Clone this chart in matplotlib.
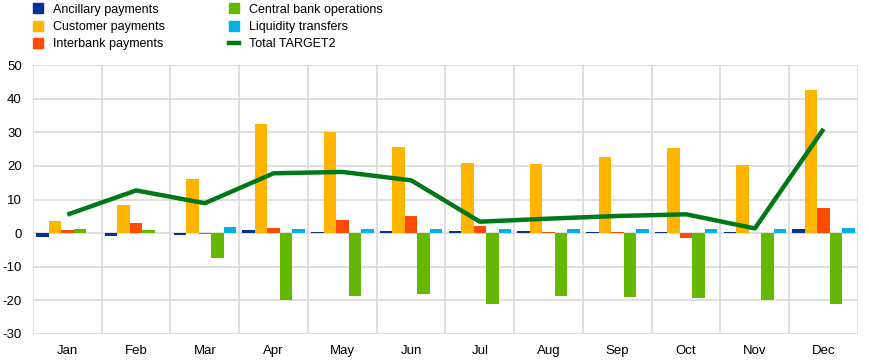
import matplotlib
matplotlib.use("Agg")
import matplotlib.pyplot as plt
import numpy as np
from matplotlib.lines import Line2D

plt.rcParams['font.family'] = ['Liberation Sans', 'DejaVu Sans']
plt.rcParams['axes.unicode_minus'] = False

months = ["Jan", "Feb", "Mar", "Apr", "May", "Jun", "Jul", "Aug", "Sep", "Oct", "Nov", "Dec"]
ancillary = [-1.2, -0.8, -0.5, 0.8, 0.3, 0.7, 0.5, 0.7, 0.2, 0.2, 0.2, 1.3]
customer = [3.5, 8.4, 16.1, 32.5, 30.1, 25.6, 20.8, 20.6, 22.7, 25.4, 20.3, 42.6]
interbank = [0.8, 3.1, -0.4, 1.6, 4.0, 5.2, 2.2, 0.4, 0.2, -1.5, 0.0, 7.5]
central = [1.3, 1.0, -7.3, -19.8, -18.6, -18.0, -21.2, -18.6, -18.9, -19.2, -19.8, -21.2]
liquidity = [0.0, 0.0, 1.9, 1.3, 1.3, 1.3, 1.3, 1.3, 1.3, 1.3, 1.3, 1.6]
total = [5.5, 12.7, 8.9, 17.8, 18.2, 15.7, 3.4, 4.3, 5.1, 5.6, 1.4, 31.0]

series = [
    ("Ancillary payments", ancillary, "#003299"),
    ("Customer payments", customer, "#FFB400"),
    ("Interbank payments", interbank, "#FF4B00"),
    ("Central bank operations", central, "#65B800"),
    ("Liquidity transfers", liquidity, "#00B1EA"),
]
total_color = "#007816"

W, H = 869, 362
fig = plt.figure(figsize=(W / 100, H / 100), dpi=100)
ax = fig.add_axes([33 / W, 1 - 334 / H, (858 - 33) / W, (334 - 65) / H])

x = np.arange(len(months))
bw = 0.182
for i, (name, vals, col) in enumerate(series):
    ax.bar(x + (i - 2) * bw, vals, width=bw, color=col, zorder=3)
ax.plot(x, total, color=total_color, lw=3.2, zorder=4, solid_capstyle='butt')

ax.set_xlim(-0.5, len(months) - 0.5)
ax.set_ylim(-30, 50)
ax.set_yticks(np.arange(-30, 51, 10))
ax.set_xticks(x)
ax.set_xticklabels(months)
ax.set_xticks(np.arange(-0.5, len(months), 1), minor=True)
ax.grid(axis='y', which='major', color='#d9d9d9', lw=1.2, zorder=0)
ax.grid(axis='x', which='minor', color='#d9d9d9', lw=1.2, zorder=0)
ax.grid(axis='x', which='major', visible=False)
for s in ax.spines.values():
    s.set_visible(False)
ax.tick_params(axis='both', which='both', length=0, labelsize=9.5, colors='black')
ax.tick_params(axis='x', pad=8)
ax.tick_params(axis='y', pad=8)

handles = [Line2D([0], [0], marker='s', color='none', markerfacecolor=c, markeredgecolor=c,
                  markersize=7.5, linestyle='None') for _, _, c in series]
handles.append(Line2D([0], [0], color=total_color, lw=3.2))
labels = [s[0] for s in series] + ["Total TARGET2"]
fig.legend(handles, labels, ncol=2, loc='upper left', bbox_to_anchor=(31.5 / W, 1 - 2.5 / H),
           frameon=False, fontsize=9, handlelength=0.85, handletextpad=0.8,
           columnspacing=5.05, labelspacing=0.42, borderaxespad=0.0, borderpad=0.1)

fig.savefig("out.png", dpi=100)
